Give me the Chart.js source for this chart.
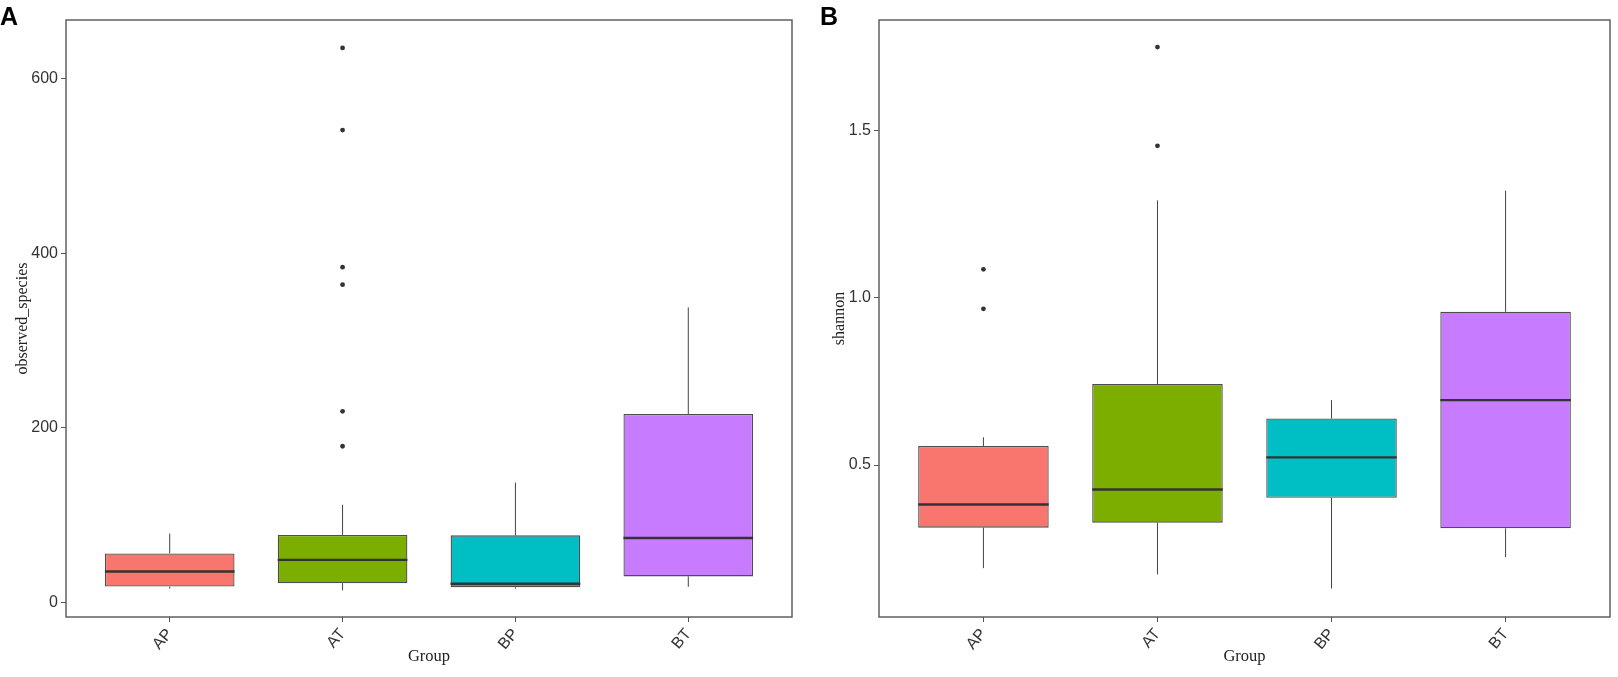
<!DOCTYPE html>
<html>
<head>
<meta charset="utf-8">
<title>observed_species / shannon</title>
<script src="https://cdn.jsdelivr.net/npm/chart.js@4.4.1/dist/chart.umd.min.js"></script>
<style>
  html, body { margin: 0; padding: 0; background: #fff; }
  body { width: 1618px; height: 677px; position: relative; overflow: hidden; }
  .panel { position: absolute; top: 0; }
  .tag { position: absolute; top: 4px; font: bold 25px "Liberation Sans", Arial, sans-serif; line-height: 25px; color: #000; z-index: 2; }
</style>
</head>
<body>
<div class="tag" style="left:0">A</div>
<div class="tag" style="left:820px">B</div>
<div class="panel" style="left:0"><canvas id="chartA" width="800" height="677"></canvas></div>
<div class="panel" style="left:800px"><canvas id="chartB" width="818" height="677"></canvas></div>

<script>
// groups and colours
const groups = ['AP', 'AT', 'BP', 'BT'];
const fills = ['#F8766D', '#7CAE00', '#00BFC4', '#C77CFF'];

// panel A: observed_species
const lowA = [16, 14, 16, 18];
const q1A = [18.3, 22.2, 17.6, 30];
const medA = [35.6, 48.9, 21.5, 74];
const q3A = [56.3, 77.5, 77, 216];
const highA = [79, 112, 137.5, 338];
const outA = [[], [635, 541, 384, 364, 219, 179], [], []];
const ticksA = [0, 200, 400, 600];

// panel B: shannon
const lowB = [0.192, 0.173, 0.131, 0.225];
const q1B = [0.313, 0.328, 0.402, 0.311];
const medB = [0.382, 0.427, 0.523, 0.694];
const q3B = [0.557, 0.742, 0.639, 0.958];
const highB = [0.583, 1.291, 0.694, 1.320];
const outB = [[1.085, 0.967], [1.749, 1.454], [], []];
const ticksB = [0.5, 1.0, 1.5];

const sans = '"Liberation Sans", Arial, sans-serif';
const serif = '"Liberation Serif", "Times New Roman", serif';

// whiskers, medians and the panel frame, placed with the chart's scales
function boxParts(low, q1, med, q3, high) {
  return {
    id: 'boxParts',
    afterDatasetsDraw(chart) {
      const { ctx, chartArea } = chart;
      const xs = chart.scales.x;
      const ys = chart.scales.y;
      const bars = chart.getDatasetMeta(0).data;
      ctx.save();
      groups.forEach((g, i) => {
        const cx = xs.getPixelForValue(i);
        ctx.strokeStyle = '#444';
        ctx.lineWidth = 1;
        ctx.beginPath();
        ctx.moveTo(cx, ys.getPixelForValue(q3[i]));
        ctx.lineTo(cx, ys.getPixelForValue(high[i]));
        ctx.moveTo(cx, ys.getPixelForValue(q1[i]));
        ctx.lineTo(cx, ys.getPixelForValue(low[i]));
        ctx.stroke();

        const half = bars[i].width / 2;
        const my = ys.getPixelForValue(med[i]);
        ctx.strokeStyle = '#333';
        ctx.lineWidth = 2.4;
        ctx.beginPath();
        ctx.moveTo(cx - half, my);
        ctx.lineTo(cx + half, my);
        ctx.stroke();
      });
      ctx.strokeStyle = '#555';
      ctx.lineWidth = 1.4;
      ctx.strokeRect(chartArea.left, chartArea.top,
        chartArea.right - chartArea.left, chartArea.bottom - chartArea.top);
      ctx.restore();
    },
  };
}

function makePanel(id, s) {
  const outliers = [];
  s.out.forEach((vals, i) => vals.forEach((v) => outliers.push({ x: i, y: v })));

  new Chart(document.getElementById(id), {
    type: 'bar',
    data: {
      datasets: [
        {
          data: groups.map((g, i) => ({ x: i, y: [s.q1[i], s.q3[i]] })),
          backgroundColor: fills,
          borderColor: '#4d4d4d',
          borderWidth: 1.3,
          borderSkipped: false,
          categoryPercentage: 1,
          barPercentage: 0.75,
          grouped: false,
        },
        {
          type: 'scatter',
          data: outliers,
          pointRadius: 2.4,
          pointBackgroundColor: '#333',
          pointBorderWidth: 0,
        },
      ],
    },
    options: {
      responsive: false,
      animation: false,
      events: [],
      layout: { padding: { left: 0, right: 8, top: 20, bottom: 0 } },
      plugins: { legend: { display: false }, tooltip: { enabled: false } },
      scales: {
        x: {
          type: 'linear',
          min: -0.6,
          max: 3.6,
          offset: false,
          afterBuildTicks: (sc) => { sc.ticks = groups.map((g, i) => ({ value: i })); },
          afterFit: (sc) => { sc.height = 60; },
          grid: { offset: false, drawOnChartArea: false, tickLength: 5, color: '#555', lineWidth: 1 },
          border: { display: false },
          ticks: {
            autoSkip: false,
            minRotation: 50,
            maxRotation: 50,
            padding: 3,
            color: '#333',
            font: { family: sans, size: 16 },
            callback: (v) => groups[v],
          },
          title: {
            display: true,
            text: 'Group',
            color: '#222',
            font: { family: serif, size: 16.5 },
            padding: { top: 0, bottom: 10 },
          },
        },
        y: {
          min: s.min,
          max: s.max,
          afterBuildTicks: (sc) => { sc.ticks = s.ticks.map((v) => ({ value: v })); },
          afterFit: (sc) => { sc.width = s.axisWidth; },
          grid: { drawOnChartArea: false, tickLength: 5, color: '#555', lineWidth: 1 },
          border: { display: false },
          ticks: {
            padding: 3,
            color: '#333',
            font: { family: sans, size: 16 },
            callback: s.fmt,
          },
          title: {
            display: true,
            text: s.title,
            color: '#222',
            font: { family: serif, size: 16 },
            padding: { top: s.titlePad, bottom: 0 },
          },
        },
      },
    },
    plugins: [boxParts(s.low, s.q1, s.med, s.q3, s.high)],
  });
}

makePanel('chartA', {
  low: lowA, q1: q1A, med: medA, q3: q3A, high: highA, out: outA,
  ticks: ticksA, min: -16.5, max: 667, fmt: (v) => String(v),
  title: 'observed_species', axisWidth: 66, titlePad: 13,
});

makePanel('chartB', {
  low: lowB, q1: q1B, med: medB, q3: q3B, high: highB, out: outB,
  ticks: ticksB, min: 0.046, max: 1.83, fmt: (v) => v.toFixed(1),
  title: 'shannon', axisWidth: 79, titlePad: 30,
});
</script>
</body>
</html>
